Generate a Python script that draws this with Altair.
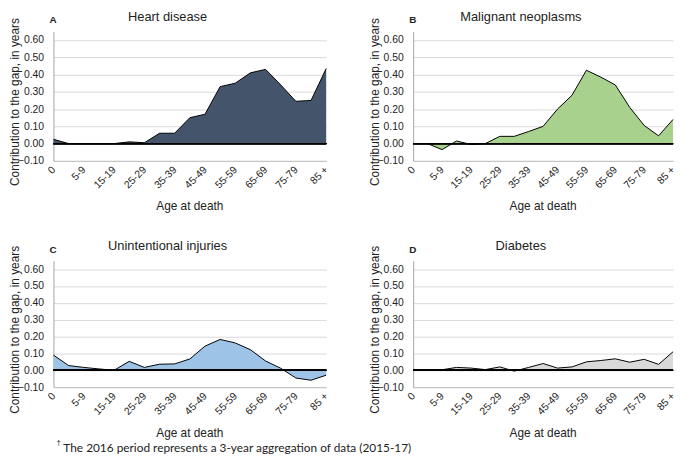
import altair as alt
import pandas as pd

ages = ["0", "1-4", "5-9", "10-14", "15-19", "20-24", "25-29", "30-34", "35-39",
        "40-44", "45-49", "50-54", "55-59", "60-64", "65-69", "70-74", "75-79",
        "80-84", "85 +"]
age_ticks = ages[::2]
y_ticks = [-0.1, 0.0, 0.1, 0.2, 0.3, 0.4, 0.5, 0.6]

heart = [0.025, 0.0, 0.0, 0.0, 0.0, 0.01, 0.005, 0.06, 0.06, 0.15, 0.17, 0.33,
         0.35, 0.41, 0.43, 0.34, 0.245, 0.25, 0.435]
neoplasms = [0.0, 0.0, -0.035, 0.015, -0.005, 0.0, 0.042, 0.042, 0.07, 0.10, 0.20,
             0.28, 0.425, 0.385, 0.34, 0.21, 0.105, 0.045, 0.14]
injuries = [0.09, 0.028, 0.017, 0.008, 0.0, 0.053, 0.017, 0.036, 0.038, 0.067,
            0.143, 0.183, 0.162, 0.122, 0.055, 0.012, -0.046, -0.059, -0.029]
diabetes = [0.0, 0.0, 0.003, 0.017, 0.013, 0.004, 0.02, -0.005, 0.017, 0.04, 0.013,
            0.02, 0.05, 0.058, 0.068, 0.048, 0.065, 0.035, 0.11]

titles = ["Heart disease", "Malignant  neoplasms", "Unintentional  injuries", "Diabetes"]
letters = ["A", "B", "C", "D"]
colors = ["#44546a", "#a9d18e", "#9dc3e6", "#d9d9d9"]
y_title = "Contribution to the gap, in years"
x_title = "Age at death"
foot_mark = "†"
foot_text = "The 2016 period represents a 3-year aggregation of data (2015-17)"

FONT = "Liberation Sans"
TXT = "#222222"


def txt(s, x, y, font=FONT, **kw):
    return alt.Chart(pd.DataFrame({"t": [s]})).mark_text(font=font, color=TXT, **kw).encode(
        text="t:N", x=alt.value(x), y=alt.value(y))


def panel(title, letter, values, color, w, h, footnote=False):
    df = pd.DataFrame({"age": ages, "value": values})
    x = alt.X("age:N", sort=ages, scale=alt.Scale(type="point", padding=0),
              axis=alt.Axis(values=age_ticks, labelAngle=-45, labelAlign="right",
                            labelBaseline="middle", labelPadding=7, ticks=False,
                            domainColor="#bfbfbf", grid=False, title=None,
                            labelFont=FONT, labelFontSize=10.5, labelColor=TXT,
                            labelOverlap=False))
    y = alt.Y("value:Q", scale=alt.Scale(domain=[-0.1, 0.65], nice=False, zero=False),
              axis=alt.Axis(values=y_ticks, tickCount=len(y_ticks), format=".2f",
                            title=None, grid=True, gridColor="#d9d9d9", ticks=False,
                            domainColor="#a6a6a6", labelPadding=10, labelFont=FONT,
                            labelFontSize=10.5, labelColor=TXT, labelOverlap=False))
    area = alt.Chart(df).mark_area(
        color=color, opacity=1, line={"color": "black", "strokeWidth": 1}
    ).encode(x=x, y=y, y2=alt.datum(0))
    zero = alt.Chart(df).mark_rule(color="black", strokeWidth=1).encode(y=alt.datum(0))
    layers = [
        area, zero,
        txt(title, (-45 + w) / 2, -21, fontSize=13, baseline="top", align="center"),
        txt(letter, -4, -8, fontSize=10, fontWeight="bold", baseline="alphabetic",
            align="left"),
        txt(y_title, -39, h / 2 + 6, fontSize=12, angle=270, baseline="middle",
            align="center"),
        txt(x_title, w / 2, h + 46, fontSize=12, baseline="middle", align="center"),
    ]
    if footnote:
        layers.append(txt(foot_mark, 3, h + 59, fontSize=8, baseline="alphabetic",
                          align="left"))
        layers.append(txt(foot_text, 10, h + 66, font="Lato", fontSize=12,
                          baseline="alphabetic", align="left"))
    return alt.layer(*layers).properties(width=w, height=h)


A = panel(titles[0], letters[0], heart, colors[0], 276, 131)
B = panel(titles[1], letters[1], neoplasms, colors[1], 263, 131)
C = panel(titles[2], letters[2], injuries, colors[2], 276, 128, footnote=True)
D = panel(titles[3], letters[3], diabetes, colors[3], 263, 128)

chart = alt.concat(A, B, C, D, columns=2, spacing={"row": 101, "column": 88},
                   bounds="flush", padding=0).configure(
    font=FONT).configure_view(stroke=None)

chart.save("out.html", embed_options={"renderer": "svg", "actions": False})
